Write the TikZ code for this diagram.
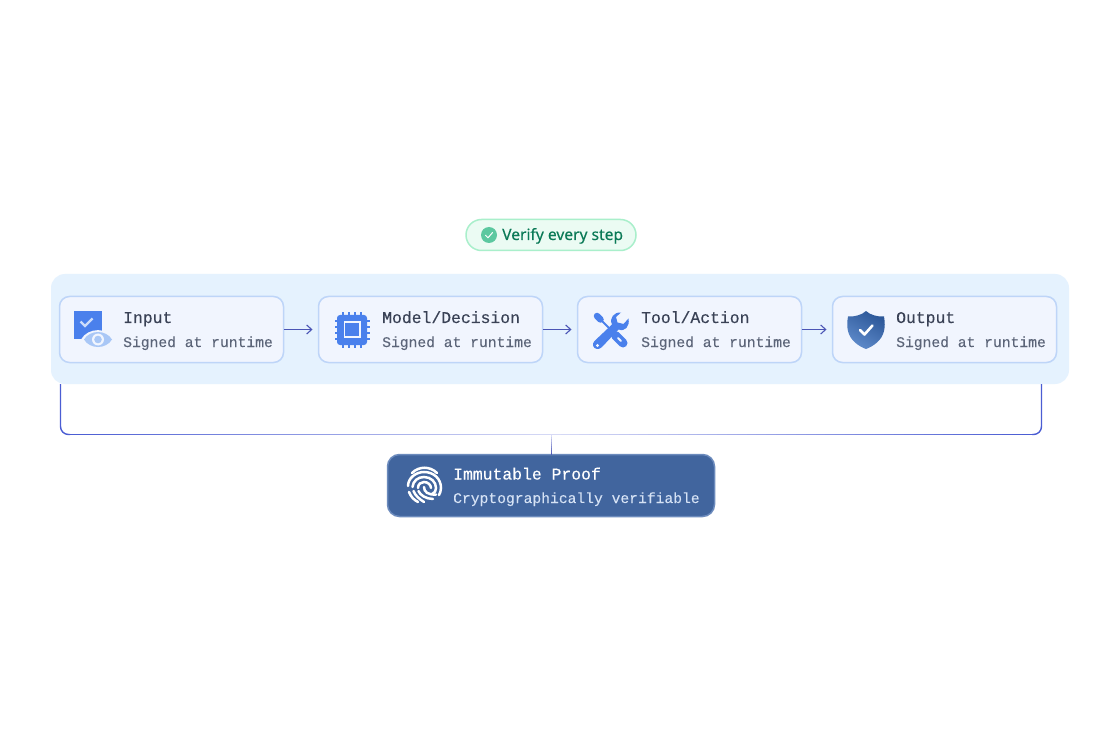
\documentclass[tikz,border=0pt]{standalone}
\usepackage{fontspec}
\setmainfont{Noto Sans}
\newfontfamily\plexsub[FakeBold=0.08]{Liberation Mono}
\newfontfamily\plextitle[FakeBold=0.4]{Liberation Mono}
\newfontfamily\pillfont[FakeBold=0.3]{Noto Sans}
\usetikzlibrary{arrows.meta,calc}
\definecolor{bandc}{HTML}{E5F2FE}
\definecolor{cardf}{HTML}{F1F5FE}
\definecolor{cardb}{HTML}{BED5F8}
\definecolor{titlec}{HTML}{3A4256}
\definecolor{subc}{HTML}{5B6478}
\definecolor{arrowc}{HTML}{4A55B5}
\definecolor{linec}{HTML}{4B5DD3}
\definecolor{palec}{HTML}{DADDF6}
\definecolor{iconb}{HTML}{4A80EC}
\definecolor{iconl}{HTML}{A9C7F6}
\definecolor{pillf}{HTML}{EBFBF3}
\definecolor{pillb}{HTML}{A9EFCB}
\definecolor{pillt}{HTML}{0B7A57}
\definecolor{checkc}{HTML}{5CC8A0}
\definecolor{prooff}{HTML}{41659E}
\definecolor{proofb}{HTML}{6C8BBD}
\definecolor{proofs}{HTML}{D5E2F5}
\definecolor{shd}{HTML}{2C5798}
\definecolor{shl}{HTML}{5F8BCB}
\tikzset{
  card/.style={draw=cardb,fill=cardf,line width=1.5pt,rounded corners=10pt,minimum width=224pt,minimum height=66pt,inner sep=0pt,outer sep=0pt},
  cardtitle/.style={anchor=base west,inner sep=0pt,text=titlec,font=\plextitle\fontsize{16.4}{18}\selectfont},
  cardsub/.style={anchor=base west,inner sep=0pt,text=subc,font=\plexsub\fontsize{14.67}{17}\selectfont},
  flow/.style={draw=arrowc,line width=1.1pt,-{Straight Barb[length=5pt,width=9pt,line width=1.1pt]},shorten >=6pt},
  bracket/.style={draw=linec,line width=1.4pt},
}
\begin{document}
\begin{tikzpicture}[x=1pt,y=-1pt]
\useasboundingbox (0,0) rectangle (1120,746);
\fill[white] (0,0) rectangle (1120,746);
% pill
\node[draw=pillb,fill=pillf,line width=1.5pt,rounded corners=15.5pt,minimum width=170pt,minimum height=31pt,inner sep=0pt] (pill) at (551,235) {};
\node[circle,fill=checkc,minimum size=16pt,inner sep=0pt] (pilldot) at (489,235) {};
\draw[white,line width=1pt,line cap=round,line join=round] (485.5,235.2) -- (488,237.8) -- (492.5,232.6);
\node[anchor=base west,inner sep=0pt,text=pillt,font=\pillfont\fontsize{15.6}{18}\selectfont] (pilltext) at (502,240) {Verify every step};
% band
\node[fill=bandc,rounded corners=14pt,minimum width=1018pt,minimum height=110pt,inner sep=0pt] (band) at (560,329) {};
% bracket
\coordinate (bl) at (60.5,384);
\coordinate (br) at (1041.5,384);
\coordinate (hub) at (551.5,434.5);
\draw[bracket,rounded corners=8pt,line cap=butt] (bl) |- (70,434.5);
\draw[bracket,rounded corners=8pt,line cap=butt] (br) |- (1032,434.5);
\foreach \i in {0,...,48}{
  \pgfmathsetmacro{\m}{max(0,100-\i*2.04)}
  \draw[draw=linec!\m!palec,line width=1.4pt] (70+\i*10,434.5) -- (70.5+\i*10+10,434.5);
  \draw[draw=linec!\m!palec,line width=1.4pt] (1032-\i*9.84,434.5) -- (1032-\i*9.84-10,434.5);
}
% cards
\node[card] (input) at (171.5,329.5) {};
\node[card] (model) at (430.5,329.5) {};
\node[card] (tool) at (689.5,329.5) {};
\node[card] (output) at (944.5,329.5) {};
\draw[flow] (input.east) -- (model.west);
\draw[flow] (model.east) -- (tool.west);
\draw[flow] (tool.east) -- (output.west);
% proof
\node[draw=proofb,fill=prooff,line width=1.5pt,rounded corners=12pt,minimum width=327pt,minimum height=62pt,inner sep=0pt] (proof) at (551,485.5) {};
\foreach \i in {0,...,8}{
  \pgfmathsetmacro{\m}{\i*12}
  \draw[draw=arrowc!\m!palec,line width=1.2pt] (hub |- 0,435+\i*2.2) -- (hub |- 0,437.4+\i*2.2);
}
% texts
\node[cardtitle] (t1) at (123,323) {Input};
\node[cardsub] (s1) at (123,347) {Signed at runtime};
\node[cardtitle] (t2) at (382,323) {Model/Decision};
\node[cardsub] (s2) at (382,347) {Signed at runtime};
\node[cardtitle] (t3) at (641,323) {Tool/Action};
\node[cardsub] (s3) at (641,347) {Signed at runtime};
\node[cardtitle] (t4) at (896,323) {Output};
\node[cardsub] (s4) at (896,347) {Signed at runtime};
\node[cardtitle,text=white] (t5) at (453,479.5) {Immutable Proof};
\node[cardsub,text=proofs] (s5) at (453,503) {Cryptographically verifiable};
% input icon
\fill[iconb] (74,311) rectangle (102,339);
\draw[white!72!iconb,line width=2.4pt] (80.5,321.5) -- (85,326) -- (92.5,318.5);
\fill[cardf] (81,339.5) .. controls (88,327) and (108,327) .. (115,339.5) .. controls (108,352) and (88,352) .. (81,339.5) -- cycle;
\fill[iconl] (84,339.5) .. controls (90,329.5) and (106,329.5) .. (112,339.5) .. controls (106,349.5) and (90,349.5) .. (84,339.5) -- cycle;
\fill[cardf] (98,339.5) circle (6);
\fill[iconl] (98,339.5) circle (3.8);
% chip icon
\foreach \p in {343,349,355,361}{
  \fill[iconb] (\p-1.2,312.5) rectangle (\p+1.2,347.5);
}
\foreach \p in {321,327,333,339}{
  \fill[iconb] (334.5,\p-1.2) rectangle (369.5,\p+1.2);
}
\fill[iconb,rounded corners=3pt] (337,315) rectangle (367,345);
\fill[cardf] (343.5,321) rectangle (360.5,338);
\fill[iconb] (345.3,322.8) rectangle (358.7,336.2);
% tool icon
\draw[iconb,line width=2pt,line cap=round] (598,317) -- (612,331);
\draw[iconb,line width=6.5pt,line cap=round] (597,316) -- (600.5,319.5);
\draw[iconb,line width=9pt,line cap=round] (615.5,335.5) -- (623,343);
\draw[cardf,line width=2pt,line cap=round] (618,338) -- (621,341);
\fill[iconb] (621,312.5) .. controls (614,312) and (609,318) .. (612,324.5) -- (594.5,341) .. controls (591.5,344) and (593,348.5) .. (597,349) .. controls (599,349.2) and (600.5,348.5) .. (602,347) -- (618.5,329.5) .. controls (625,332) and (630,326.5) .. (628.5,318.5) -- (623.5,324) -- (617.5,322.5) -- (616,317) -- cycle;
\fill[cardf] (597.5,345.5) circle (1.6);
% shield icon
\shade[shading=axis,left color=shd,right color=shl,shading angle=-30] (866,311) .. controls (870,315) and (878,317) .. (884,316.5) .. controls (885,322) and (885,327) .. (884,331) .. controls (882,340) and (874,346) .. (866,349) .. controls (858,346) and (850,340) .. (848,331) .. controls (847,327) and (847,322) .. (848,316.5) .. controls (854,317) and (862,315) .. (866,311) -- cycle;
\draw[white,line width=2.6pt,line cap=round,line join=round] (860,330) -- (864.5,334.5) -- (872.5,325.5);
% fingerprint icon
\begin{scope}[white,line width=2.5pt,line cap=round]
\draw (412,473) .. controls (419,466) and (430,466) .. (437,473);
\draw (408,486) .. controls (408,478) and (416,472) .. (424,472) .. controls (434,472) and (441,479) .. (441,488) .. controls (441,491) and (440,493) .. (439,495);
\draw (409,492) .. controls (411,497) and (414,500) .. (418,502);
\draw (412.5,487) .. controls (413,481) and (418,477) .. (424,477) .. controls (431,477) and (436,482) .. (436,488) .. controls (436,491) and (435,492) .. (432,494);
\draw (413.5,491) .. controls (415,495) and (419,499) .. (424,502);
\draw (418,488) .. controls (418,484) and (421,482) .. (424,482) .. controls (428,482) and (431,485) .. (431,488);
\draw (418.5,491) .. controls (420,495) and (426,499) .. (433,499);
\draw (424,487) .. controls (424,492) and (428,495) .. (436,494.5);
\end{scope}
\end{tikzpicture}
\end{document}
